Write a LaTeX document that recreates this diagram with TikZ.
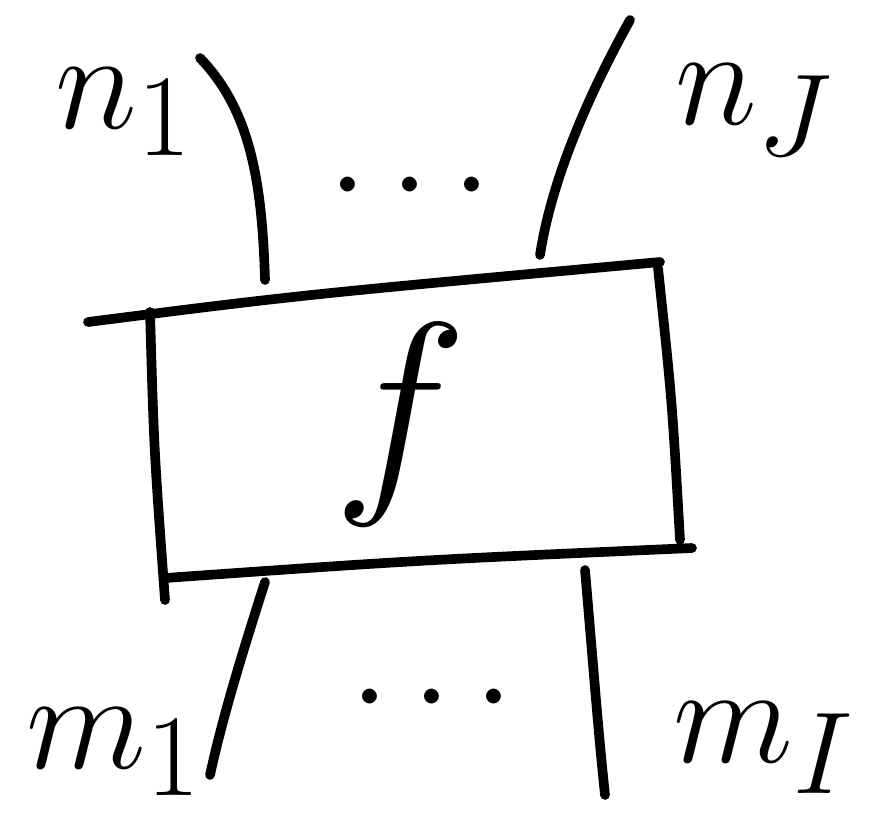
\documentclass[tikz,border=0pt]{standalone}
\usetikzlibrary{positioning}
\tikzset{
  wire/.style={line width=5.5pt, line cap=round, line join=round},
  lbl/.style={font=\Huge, scale=3.2, transform shape, inner sep=0pt},
}
\begin{document}
\begin{tikzpicture}[x=0.02cm, y=-0.02cm]
  \useasboundingbox (0,0) rectangle (891,833);
  % box corners, with the overhanging strokes
  \coordinate (tl) at (88,322);
  \coordinate (tr) at (660,262);
  \coordinate (lt) at (150,312);
  \coordinate (lb) at (165,600);
  \coordinate (bl) at (165,578);
  \coordinate (br) at (692,548);
  \coordinate (rt) at (658,268);
  \coordinate (rb) at (680,540);
  \draw[wire] (tl) .. controls (300,295) .. (tr);
  \draw[wire] (lt) .. controls (154,450) .. (lb);
  \draw[wire] (bl) .. controls (420,560) .. (br);
  \draw[wire] (rt) .. controls (672,400) .. (rb);
  \node[font=\Huge, scale=5.2, transform shape, inner sep=0pt] (box) at (400,425) {$f$};
  % wire ends
  \coordinate (in1) at (265,280);
  \coordinate (in1end) at (200,58);
  \coordinate (inJ) at (540,255);
  \coordinate (inJend) at (630,20);
  \coordinate (out1) at (265,582);
  \coordinate (out1end) at (210,775);
  \coordinate (outI) at (585,570);
  \coordinate (outIend) at (605,795);
  \draw[wire] (in1) .. controls (262,180) and (250,110) .. (in1end);
  \draw[wire] (inJ) .. controls (550,190) and (580,110) .. (inJend);
  \draw[wire] (out1) .. controls (240,660) and (222,720) .. (out1end);
  \draw[wire] (outI) .. controls (592,650) and (598,730) .. (outIend);
  % labels
  \node[lbl] (n1) at (125,112) {$n_1$};
  \node[lbl] (nJ) at (755,110) {$n_J$};
  \node[lbl] (m1) at (115,752) {$m_1$};
  \node[lbl] (mI) at (765,748) {$m_I$};
  \node[lbl] (topdots) at (410,188) {$\cdots$};
  \node[lbl] (botdots) at (432,700) {$\cdots$};
\end{tikzpicture}
\end{document}
